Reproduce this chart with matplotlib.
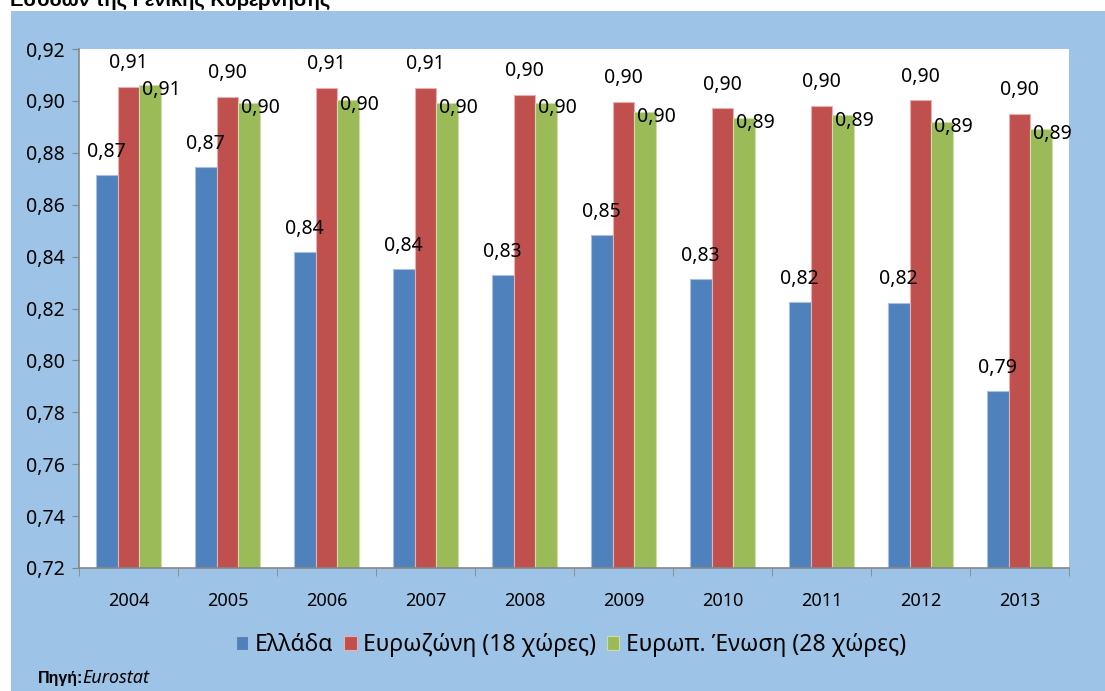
import matplotlib
matplotlib.use("Agg")
import matplotlib.pyplot as plt
from matplotlib.ticker import FuncFormatter, FixedLocator
import numpy as np

plt.rcParams['font.family'] = ['Noto Sans', 'DejaVu Sans']

years = ['2004', '2005', '2006', '2007', '2008', '2009', '2010', '2011', '2012', '2013']
greece = [0.8714, 0.8745, 0.8418, 0.8352, 0.8329, 0.8483, 0.8314, 0.8225, 0.8223, 0.7882]
eurozone = [0.9055, 0.9016, 0.9050, 0.9050, 0.9022, 0.8997, 0.8971, 0.8982, 0.9002, 0.8951]
eu28 = [0.9061, 0.8991, 0.9004, 0.8991, 0.8991, 0.8958, 0.8933, 0.8944, 0.8919, 0.8891]
series_names = ['Ελλάδα', 'Ευρωζώνη (18 χώρες)', 'Ευρωπ. Ένωση (28 χώρες)']
colors = ['#4F81BD', '#C0504D', '#9BBB59']
edges = ['#A7C0DE', '#E8B0AE', '#CDDDAC']
bold_family = ['Liberation Sans', 'DejaVu Sans']

fig = plt.figure(figsize=(11.05, 6.91), dpi=100)
fig.patch.set_facecolor('white')
bg = fig.add_axes([11/1105, 0, 1 - 11/1105, 1 - 11/691], zorder=-10)
bg.set_facecolor('#9DC3E6')
bg.set_xticks([]); bg.set_yticks([])
for s in bg.spines.values():
    s.set_visible(False)

fig.text(10/1105, 1.0, 'Εσόδων της Γενικής Κυβέρνησης', fontsize=14.5, fontweight='bold',
         family=bold_family, ha='left', va='center')

ax = fig.add_axes([79/1105, 1 - 568/691, 990/1105, 519/691], zorder=1)
ax.set_facecolor('white')

x = np.arange(len(years))
w = 0.22
data = [greece, eurozone, eu28]
bars = []
for i, (vals, c, e, n) in enumerate(zip(data, colors, edges, series_names)):
    b = ax.bar(x + (i - 1) * w, np.array(vals) - 0.72, bottom=0.72, width=w, color=c,
               edgecolor=e, linewidth=0.8, label=n, zorder=2)
    bars.append(b)

fmt = lambda v: f'{v:.2f}'.replace('.', ',')
for i in range(len(years)):
    ax.text(x[i] - w, greece[i] + 0.0090, fmt(greece[i]), ha='center', va='center', fontsize=14, zorder=3)
    ax.text(x[i], eurozone[i] + 0.0092, fmt(eurozone[i]), ha='center', va='center', fontsize=14, zorder=3)
    ax.text(x[i] + 1.5 * w, eu28[i] - 0.0020, fmt(eu28[i]), ha='center', va='center', fontsize=14, zorder=3)

ax.set_xlim(-0.5, len(years) - 0.5)
ax.set_ylim(0.72, 0.92)
ax.set_yticks(np.arange(0.72, 0.9201, 0.02))
ax.yaxis.set_major_formatter(FuncFormatter(lambda v, p: fmt(v)))
ax.set_xticks(x)
ax.set_xticklabels(years)
ax.xaxis.set_minor_locator(FixedLocator(np.arange(-0.5, len(years), 1.0)))
ax.tick_params(axis='x', which='major', length=0, pad=17, labelsize=13)
ax.tick_params(axis='x', which='minor', length=6, color='#868686', direction='out')
ax.tick_params(axis='y', length=5, color='#868686', direction='out', labelsize=14, pad=5)
for s in ['top', 'right']:
    ax.spines[s].set_visible(False)
for s in ['left', 'bottom']:
    ax.spines[s].set_color('#868686')
    ax.spines[s].set_linewidth(1.2)

leg = fig.legend(handles=bars, labels=series_names, loc='center', bbox_to_anchor=(571/1105, 1 - 645/691),
                 ncol=3, frameon=False, fontsize=16.5, handlelength=0.55, handleheight=0.6,
                 handletextpad=0.3, columnspacing=0.45)

fig.text(38/1105, 1 - 678/691, 'Πηγή:', fontsize=11.5, fontweight='bold', family=bold_family,
         ha='left', va='center')
fig.text(82/1105, 1 - 678/691, 'Eurostat', fontsize=13, fontstyle='italic', ha='left', va='center')

fig.savefig('out.png', dpi=100, facecolor=fig.get_facecolor())
